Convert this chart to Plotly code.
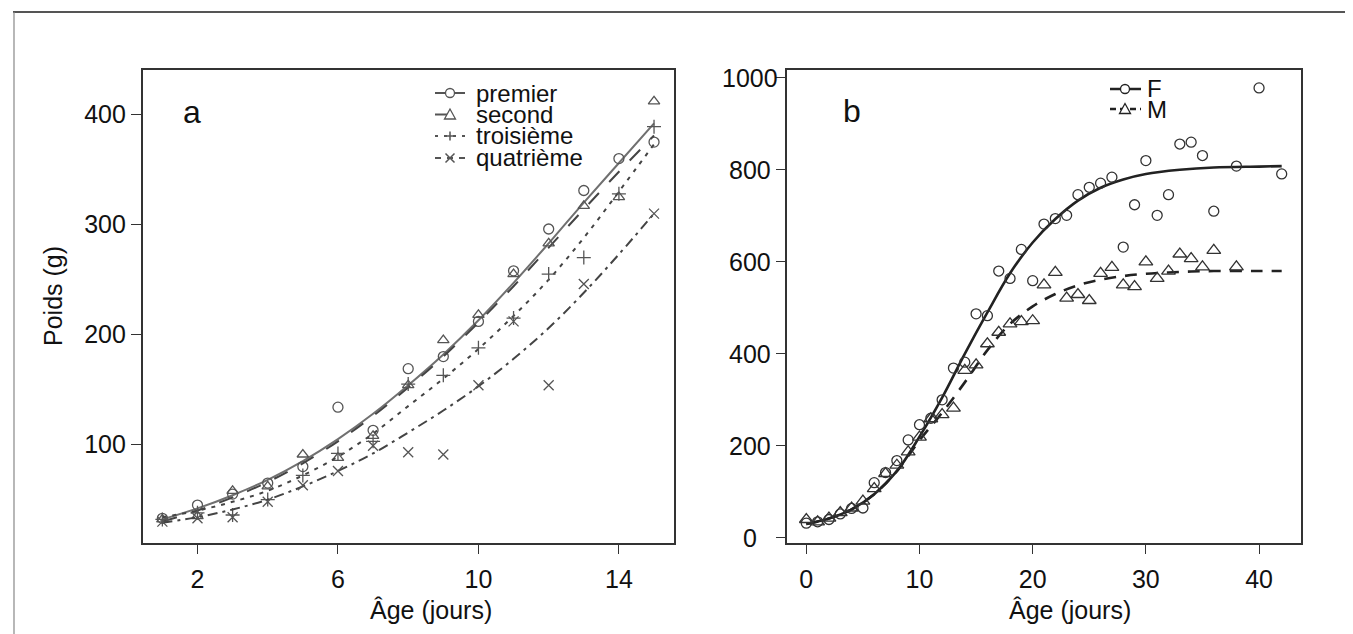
import plotly.graph_objects as go

W, H = 1353, 634

# ---------------- Panel a data ----------------
age_a = list(range(1, 16))
premier = [33, 45, 55, 65, 80, 134, 113, 169, 180, 212, 258, 296, 331, 360, 375]
second = [32, 35, 58, 62, 91, 88, 108, 154, 195, 218, 255, 283, 317, 325, 412]
troisieme = [32, 38, 36, 50, 72, 92, 103, 155, 163, 188, 215, 255, 270, 328, 389]
quatrieme = [30, 33, 34, 48, 63, 76, 99, 93, 91, 154, 212, 154, 246, None, 310]

premier_fit = [32, 42, 54, 68, 85, 105, 128, 154, 182, 213, 247, 283, 320, 356, 392]
second_fit = [30, 40, 52, 66, 83, 103, 126, 152, 180, 211, 244, 279, 314, 348, 381]
troisieme_fit = [34, 40, 48, 58, 72, 89, 110, 135, 160, 187, 217, 250, 288, 330, 373]
quatrieme_fit = [29, 34, 41, 50, 62, 76, 92, 111, 131, 153, 178, 206, 238, 273, 310]

ticks_a_x = [2, 6, 10, 14]
ticks_a_y = [100, 200, 300, 400]

# ---------------- Panel b data ----------------
age_f = list(range(0, 37)) + [38, 40, 42]
poids_f = [32, 35, 40, 52, 64, 65, 120, 142, 168, 213, 246, 260, 300, 369, 382,
           487, 483, 580, 564, 627, 559, 682, 694, 701, 746, 762, 771, 784, 632,
           724, 820, 701, 746, 856, 860, 831, 710, 808, 978, 791]
age_m = list(range(0, 37)) + [38]
poids_m = [40, 35, 43, 55, 65, 80, 107, 140, 158, 187, 219, 259, 268, 282, 364,
           376, 422, 447, 465, 470, 472, 550, 577, 521, 529, 516, 575, 588, 550,
           546, 600, 564, 580, 617, 607, 589, 625, 589]

age_fit_b = [0, 2, 4, 6, 8, 10, 12, 14, 16, 18, 20, 22, 24, 26, 28, 30, 33, 36, 40, 42]
f_fit = [30, 42, 62, 95, 145, 220, 305, 400, 490, 575, 642, 693, 733, 761, 779, 791, 800, 805, 807, 808]
m_fit = [30, 42, 62, 95, 145, 212, 272, 338, 408, 465, 503, 530, 549, 561, 569, 574, 578, 580, 580, 580]

ticks_b_x = [0, 10, 20, 30, 40]
ticks_b_y = [0, 200, 400, 600, 800, 1000]

legend_a = ["premier", "second", "troisième", "quatrième"]
legend_b = ["F", "M"]

FONT = "Liberation Sans"
GRAY = "#555555"
BLACK = "#222222"

fig = go.Figure()

# panel a fits + points
styles_a = [
    (premier, premier_fit, "circle-open", "solid", "#707070"),
    (second, second_fit, "triangle-up-open", "longdash", "#444444"),
    (troisieme, troisieme_fit, "cross-thin-open", "4px,6px", "#444444"),
    (quatrieme, quatrieme_fit, "x-thin-open", "10px,5px,3px,5px", "#444444"),
]
for pts, fit, sym, dash, col in styles_a:
    fig.add_trace(go.Scatter(x=age_a, y=fit, mode="lines", line=dict(color=col, width=2, dash=dash, shape="spline"),
                             xaxis="x", yaxis="y", showlegend=False, hoverinfo="skip"))
    fig.add_trace(go.Scatter(x=age_a, y=pts, mode="markers",
                             marker=dict(symbol=sym, size=10, color=GRAY, line=dict(width=1.3, color=GRAY)),
                             xaxis="x", yaxis="y", showlegend=False))

# panel b
fig.add_trace(go.Scatter(x=age_fit_b, y=f_fit, mode="lines", line=dict(color=BLACK, width=2.6, shape="spline"),
                         xaxis="x2", yaxis="y2", showlegend=False))
fig.add_trace(go.Scatter(x=age_fit_b, y=m_fit, mode="lines",
                         line=dict(color=BLACK, width=2.6, dash="12px,9px", shape="spline"),
                         xaxis="x2", yaxis="y2", showlegend=False))
fig.add_trace(go.Scatter(x=age_f, y=poids_f, mode="markers",
                         marker=dict(symbol="circle-open", size=10, color="#333", line=dict(width=1.3, color="#333")),
                         xaxis="x2", yaxis="y2", showlegend=False))
fig.add_trace(go.Scatter(x=age_m, y=poids_m, mode="markers",
                         marker=dict(symbol="triangle-up-open", size=12, color="#333", line=dict(width=1.3, color="#333")),
                         xaxis="x2", yaxis="y2", showlegend=False))


def fx(px):
    return px / W


def fy(py):
    return 1 - py / H


shapes = []
annotations = []


def seg(x0, x1, y, col, width, dash="solid"):
    shapes.append(dict(type="line", xref="paper", yref="paper", x0=fx(x0), x1=fx(x1), y0=fy(y), y1=fy(y),
                       line=dict(color=col, width=width, dash=dash)))


def glyph(kind, cx, cy, col, r=4.5):
    if kind == "circle":
        shapes.append(dict(type="circle", xref="paper", yref="paper", x0=fx(cx - r), x1=fx(cx + r),
                           y0=fy(cy + r), y1=fy(cy - r), fillcolor="white", line=dict(color=col, width=1.3)))
    elif kind == "triangle":
        p = "M %f,%f L %f,%f L %f,%f Z" % (fx(cx), fy(cy - r - 1), fx(cx - r - 1), fy(cy + r), fx(cx + r + 1), fy(cy + r))
        shapes.append(dict(type="path", xref="paper", yref="paper", path=p, fillcolor="white",
                           line=dict(color=col, width=1.3)))
    elif kind == "plus":
        p = "M %f,%f L %f,%f M %f,%f L %f,%f" % (fx(cx - r), fy(cy), fx(cx + r), fy(cy), fx(cx), fy(cy - r), fx(cx), fy(cy + r))
        shapes.append(dict(type="path", xref="paper", yref="paper", path=p, line=dict(color=col, width=1.5)))
    elif kind == "x":
        p = "M %f,%f L %f,%f M %f,%f L %f,%f" % (fx(cx - r), fy(cy - r), fx(cx + r), fy(cy + r),
                                                 fx(cx - r), fy(cy + r), fx(cx + r), fy(cy - r))
        shapes.append(dict(type="path", xref="paper", yref="paper", path=p, line=dict(color=col, width=1.5)))


def text(t, px, py, size, xanchor="center", angle=0):
    annotations.append(dict(text=t, x=fx(px), y=fy(py), xref="paper", yref="paper", showarrow=False,
                            xanchor=xanchor, yanchor="middle", textangle=angle,
                            font=dict(family=FONT, size=size, color="#111")))


# legend a
rows_a = [85, 106.5, 128, 150]
kinds_a = ["circle", "triangle", "plus", "x"]
dashes_a = ["solid", "longdash", "3px,6px", "6px,6px"]
for lab, yy, k, d in zip(legend_a, rows_a, kinds_a, dashes_a):
    seg(427, 457, yy, GRAY, 2, d)
    glyph(k, 442, yy, GRAY)
    text(lab, 466, yy, 24, "left")

# legend b
rows_b = [81, 101]
for lab, yy, k, d in zip(legend_b, rows_b, ["circle", "triangle"], ["solid", "6px,4px"]):
    seg(1102, 1133, yy, BLACK, 2.5, d)
    glyph(k, 1117, yy, BLACK)
    text(lab, 1137, yy, 24, "left")

# panel letters
text("a", 184, 104, 32)
text("b", 844, 103, 32)

# axis titles
text("Poids (g)", 45, 288, 25, "center", -90)
text("Âge (jours)", 423, 602, 25)
text("Âge (jours)", 1062, 602, 25)

# panel b y tick labels, centred as in the reference (positioned through the y2 scale)
for v in ticks_b_y:
    annotations.append(dict(text=str(v), x=fx(742), y=v, xref="paper", yref="y2", showarrow=False,
                            xanchor="center", yanchor="middle", font=dict(family=FONT, size=25, color="#111")))

# outer border
shapes.append(dict(type="line", xref="paper", yref="paper", x0=fx(5), x1=fx(1345), y0=fy(4), y1=fy(4),
                   line=dict(color="#555", width=2)))
shapes.append(dict(type="line", xref="paper", yref="paper", x0=fx(6), x1=fx(6), y0=fy(4), y1=fy(631),
                   line=dict(color="#888", width=1.2)))
shapes.append(dict(type="line", xref="paper", yref="paper", x0=fx(1343), x1=fx(1343), y0=fy(4), y1=fy(631),
                   line=dict(color="#bbb", width=1)))
shapes.append(dict(type="line", xref="paper", yref="paper", x0=fx(6), x1=fx(1343), y0=fy(631), y1=fy(631),
                   line=dict(color="#bbb", width=1)))

axis_common = dict(showgrid=False, zeroline=False, showline=True, mirror=True, linecolor="#333", linewidth=1.5,
                   ticks="outside", ticklen=10, tickwidth=1.3, tickcolor="#333",
                   tickfont=dict(family=FONT, size=25, color="#111"))

ydom = [1 - 534.5 / H, 1 - 61.5 / H]
fig.update_layout(
    width=W, height=H, autosize=False,
    margin=dict(l=0, r=0, t=0, b=0),
    paper_bgcolor="white", plot_bgcolor="white",
    showlegend=False,
    xaxis=dict(domain=[134.7 / W, 665.7 / W], range=[0.44, 15.56], tickvals=ticks_a_x, anchor="y",
               ticklabelstandoff=4, **axis_common),
    yaxis=dict(domain=ydom, range=[11, 441], tickvals=ticks_a_y, anchor="x", **axis_common),
    xaxis2=dict(domain=[779.3 / W, 1292.7 / W], range=[-1.68, 43.68], tickvals=ticks_b_x, anchor="y2",
                ticklabelstandoff=4, **axis_common),
    yaxis2=dict(domain=ydom, range=[-10, 1018], tickvals=ticks_b_y, anchor="x2", showticklabels=False,
                **axis_common),
    shapes=shapes,
    annotations=annotations,
)

fig.write_html("out.html")
